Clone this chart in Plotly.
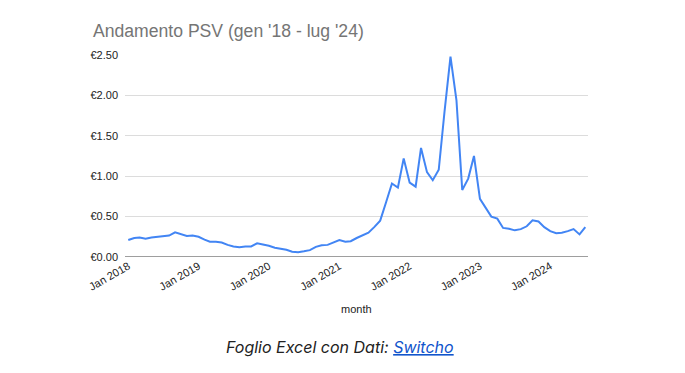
import plotly.graph_objects as go
import pandas as pd

months = pd.date_range("2018-01-01", "2024-07-01", freq="MS").strftime("%Y-%m-%d").tolist()
psv = [
    0.21, 0.235, 0.24, 0.225, 0.24, 0.25, 0.255, 0.265, 0.305, 0.285, 0.26, 0.265,
    0.25, 0.215, 0.19, 0.19, 0.18, 0.15, 0.13, 0.12, 0.13, 0.13, 0.17, 0.155,
    0.14, 0.115, 0.105, 0.09, 0.065, 0.06, 0.07, 0.085, 0.125, 0.145, 0.15, 0.175,
    0.21, 0.19, 0.195, 0.235, 0.27, 0.30, 0.37, 0.45, 0.68, 0.91, 0.86, 1.22,
    0.92, 0.87, 1.35, 1.05, 0.95, 1.08, 1.80, 2.48, 1.94, 0.83, 0.97, 1.25,
    0.72, 0.60, 0.50, 0.475, 0.36, 0.35, 0.33, 0.345, 0.38, 0.455, 0.44, 0.37,
    0.32, 0.295, 0.30, 0.32, 0.345, 0.28, 0.37,
]
y_ticks = [0, 0.5, 1.0, 1.5, 2.0, 2.5]
y_tick_labels = ["€0.00", "€0.50", "€1.00", "€1.50", "€2.00", "€2.50"]
x_ticks = ["2018-01-01", "2019-01-01", "2020-01-01", "2021-01-01", "2022-01-01", "2023-01-01", "2024-01-01"]
x_tick_labels = ["Jan 2018", "Jan 2019", "Jan 2020", "Jan 2021", "Jan 2022", "Jan 2023", "Jan 2024"]

fig = go.Figure()
fig.add_trace(go.Scatter(x=months, y=psv, mode="lines",
                         line=dict(color="#4285F4", width=2), hoverinfo="x+y"))

fig.update_layout(
    width=685, height=373,
    margin=dict(l=125, r=97, t=55, b=116),
    paper_bgcolor="white", plot_bgcolor="white",
    showlegend=False,
    font=dict(family="Liberation Sans, Arial, sans-serif", color="#222222", size=11),
    title=dict(text="Andamento PSV (gen '18 - lug '24)", x=93/685, xanchor="left",
               y=1 - 31/373, yanchor="middle",
               font=dict(size=17.6, color="#757575", family="Liberation Sans, Arial, sans-serif")),
    xaxis=dict(type="date", range=["2017-12-15", "2024-07-15"],
               tickvals=x_ticks, ticktext=x_tick_labels, tickangle=-30,
               showgrid=False, zeroline=False, showline=False, ticks="",
               tickfont=dict(size=11, color="#222222")),
    yaxis=dict(range=[0, 2.5], tickvals=y_ticks, ticktext=y_tick_labels,
               showgrid=True, gridcolor="#dcdcdc", gridwidth=1, zeroline=False,
               showline=False, ticks="", ticklabelstandoff=6,
               tickfont=dict(size=11, color="#222222")),
    shapes=[dict(type="line", xref="paper", yref="y", x0=0, x1=1, y0=0, y1=0,
                 line=dict(color="#9e9e9e", width=2))],
    annotations=[
        dict(text="month", xref="paper", yref="paper", x=0.5, y=(256.7-309)/201.7,
             xanchor="center", yanchor="middle", showarrow=False,
             font=dict(size=11, color="#222222")),
        dict(text="<i>Foglio Excel con Dati: <a href='https://switcho.it' style='color:#1155cc'><u>Switcho</u></a></i>",
             xref="paper", yref="paper", x=(340-125)/462.7, y=(256.7-347)/201.7,
             xanchor="center", yanchor="middle", showarrow=False,
             font=dict(size=16, color="#222222", family="Inter, Noto Sans, sans-serif")),
    ],
)

fig.write_html("out.html", config={"displayModeBar": False},
               post_script="document.body.style.margin='0';document.body.style.overflow='hidden';")
